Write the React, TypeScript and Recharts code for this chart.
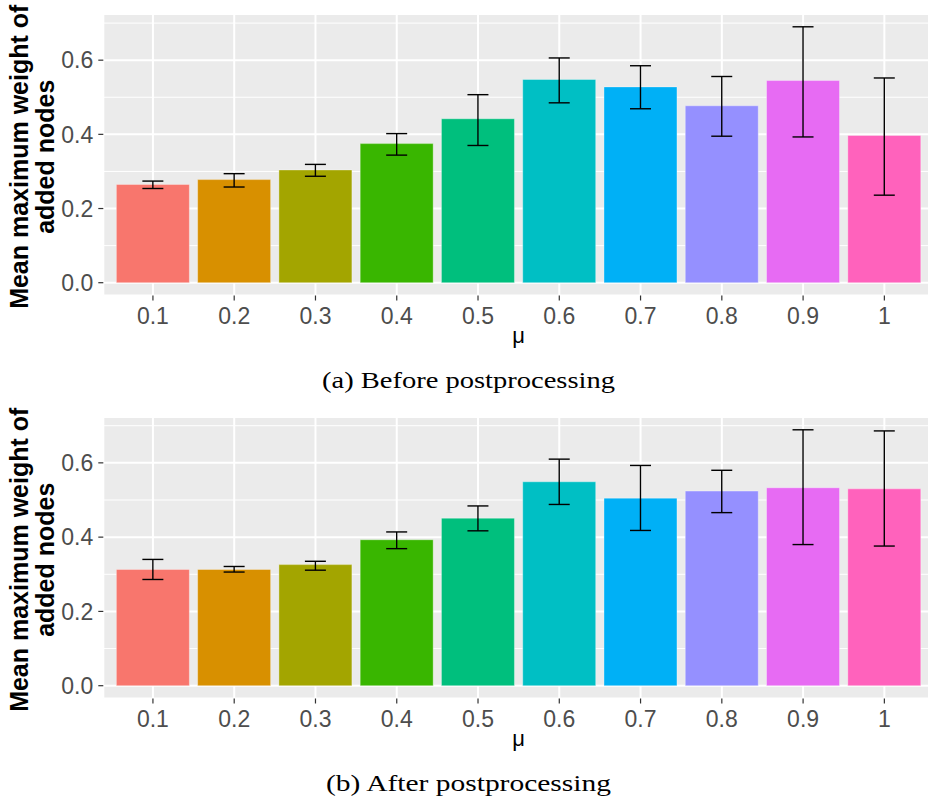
import React from 'react';
import { BarChart, Bar, XAxis, YAxis, CartesianGrid, ErrorBar, Cell } from 'recharts';

const muLabels = ['0.1', '0.2', '0.3', '0.4', '0.5', '0.6', '0.7', '0.8', '0.9', '1'];
const barColors = ['#F8766D', '#D89000', '#A3A500', '#39B600', '#00BF7D', '#00BFC4', '#00B0F6', '#9590FF', '#E76BF3', '#FF62BC'];

const beforeMean = [0.265, 0.278, 0.304, 0.375, 0.442, 0.548, 0.528, 0.477, 0.545, 0.397];
const beforeLow = [0.254, 0.258, 0.287, 0.344, 0.370, 0.485, 0.469, 0.395, 0.393, 0.236];
const beforeHigh = [0.274, 0.294, 0.319, 0.402, 0.507, 0.606, 0.585, 0.556, 0.690, 0.552];

const afterMean = [0.313, 0.313, 0.326, 0.393, 0.451, 0.549, 0.505, 0.524, 0.533, 0.530];
const afterLow = [0.286, 0.306, 0.311, 0.369, 0.417, 0.488, 0.418, 0.466, 0.380, 0.376];
const afterHigh = [0.340, 0.321, 0.335, 0.414, 0.484, 0.610, 0.593, 0.580, 0.689, 0.686];

const yTicks = [0, 0.2, 0.4, 0.6];
const yMinorTicks = [0.1, 0.3, 0.5, 0.7];

const captions = ['(a) Before postprocessing', '(b) After postprocessing'];
const yTitleLines = ['Mean maximum weight of', 'added nodes'];
const xTitle = 'μ';

const SANS = '"Liberation Sans", Arial, Helvetica, sans-serif';

function buildRows(mean: number[], low: number[], high: number[]) {
  return muLabels.map((mu, i) => ({
    mu,
    value: mean[i],
    err: [mean[i] - low[i], high[i] - mean[i]],
  }));
}

const YTitle = (props: any) => {
  const vb = props.viewBox || {};
  const cy = (vb.y || 0) + (vb.height || 0) / 2 + 2;
  const xs = [28, 53.5];
  return (
    <g>
      {yTitleLines.map((line, i) => (
        <text
          key={i}
          x={xs[i]}
          y={cy}
          transform={`rotate(-90, ${xs[i]}, ${cy})`}
          textAnchor="middle"
          fontFamily={SANS}
          fontWeight="bold"
          fontSize={25}
          fill="#000"
        >
          {line}
        </text>
      ))}
    </g>
  );
};

const XTitle = (props: any) => {
  const vb = props.viewBox || {};
  const cx = (vb.x || 0) + (vb.width || 0) / 2;
  const y = (vb.y || 0) + 47.5;
  return (
    <text x={cx} y={y} textAnchor="middle" fontFamily={SANS} fontSize={22} fill="#000">
      {xTitle}
    </text>
  );
};

function Panel({ rows, top, caption }: { rows: any[]; top: number; caption: string }) {
  const maxV = Math.max(...rows.map((r) => r.value + r.err[1]));
  const domain = [-maxV * 0.05, maxV * 1.05];
  return (
    <div style={{ position: 'absolute', left: 0, top, width: 934, height: 400 }}>
      <BarChart
        width={934}
        height={400}
        data={rows}
        margin={{ top: 14, right: 0, bottom: 44.5, left: 0 }}
        barCategoryGap="5%"
      >
        <CartesianGrid fill="#EBEBEB" stroke="#FFFFFF" strokeWidth={2} />
        <CartesianGrid
          fill="none"
          stroke="#FFFFFF"
          strokeWidth={1}
          vertical={false}
          horizontalValues={yMinorTicks}
        />
        <XAxis
          dataKey="mu"
          type="category"
          interval={0}
          padding={{ left: 9, right: 9 }}
          height={60}
          axisLine={false}
          tickSize={5}
          tickMargin={7}
          tickLine={{ stroke: '#333333', strokeWidth: 1.2 }}
          tick={{ fill: '#4D4D4D', fontSize: 23, fontFamily: SANS }}
          label={<XTitle />}
        />
        <YAxis
          width={103.3}
          domain={domain}
          ticks={yTicks}
          allowDataOverflow
          axisLine={false}
          tickSize={5}
          tickMargin={5}
          tickLine={{ stroke: '#333333', strokeWidth: 1.2 }}
          tick={{ fill: '#4D4D4D', fontSize: 23, fontFamily: SANS }}
          tickFormatter={(v: number) => v.toFixed(1)}
          label={<YTitle />}
        />
        <Bar dataKey="value" isAnimationActive={false} stroke="#FFFFFF" strokeOpacity={0.35} strokeWidth={1}>
          {rows.map((r, i) => (
            <Cell key={r.mu} fill={barColors[i]} />
          ))}
          <ErrorBar dataKey="err" width={10.5} stroke="#000000" strokeWidth={1.4} isAnimationActive={false} />
        </Bar>
      </BarChart>
      <svg
        width={928}
        height={30}
        style={{ position: 'absolute', left: 0, top: 364 }}
      >
        <text
          x={468.5}
          y={24.3}
          textAnchor="middle"
          fontFamily='"Liberation Serif", "Times New Roman", serif'
          fontSize={24}
          textLength={caption.startsWith('(a)') ? 293 : 285}
          lengthAdjust="spacingAndGlyphs"
          fill="#000"
        >
          {caption}
        </text>
      </svg>
    </div>
  );
}

export default function App() {
  const before = buildRows(beforeMean, beforeLow, beforeHigh);
  const after = buildRows(afterMean, afterLow, afterHigh);
  return (
    <div
      style={{
        position: 'absolute',
        left: 0,
        top: 0,
        width: 928,
        height: 803,
        overflow: 'hidden',
        background: '#FFFFFF',
      }}
    >
      <Panel rows={before} top={0} caption={captions[0]} />
      <Panel rows={after} top={403.2} caption={captions[1]} />
    </div>
  );
}
